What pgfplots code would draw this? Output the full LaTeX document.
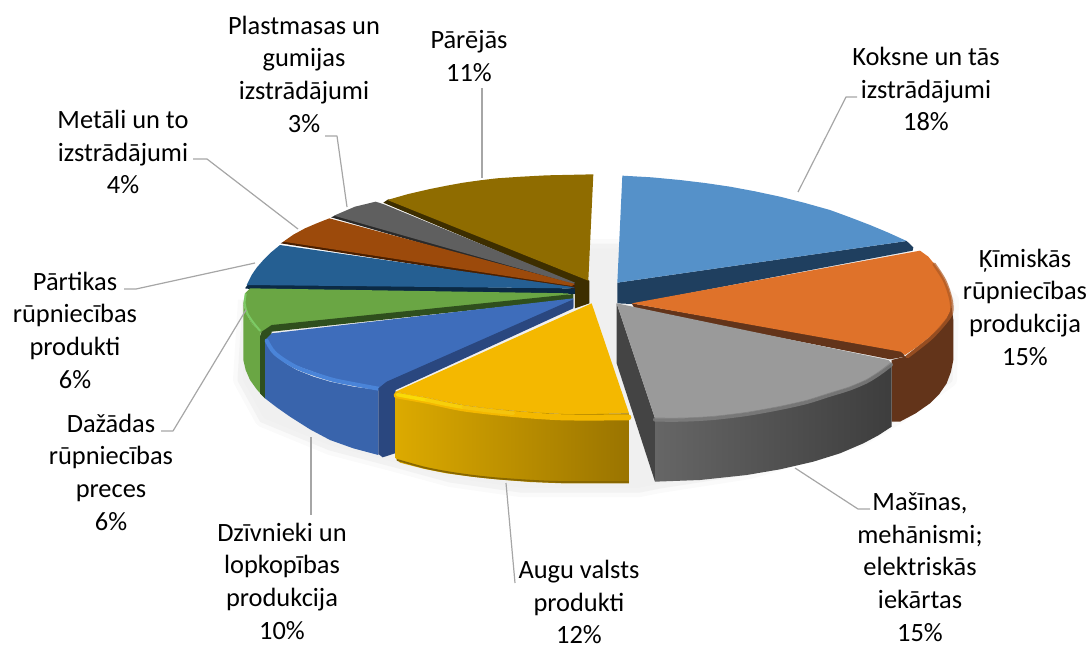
\documentclass[border=0pt]{standalone}
\usepackage{fontspec}
\setmainfont{Carlito}
\usepackage{pgfplots}
\pgfplotsset{compat=1.18}
\definecolor{cBlue}{HTML}{5591C9}\definecolor{dBlue}{HTML}{1F3F5F}
\definecolor{cOr}{HTML}{DF722A}\definecolor{dOr}{HTML}{63341A}
\definecolor{cGr}{HTML}{9A9A9A}\definecolor{dGr}{HTML}{444444}
\definecolor{cYe}{HTML}{F4B800}
\definecolor{cBl}{HTML}{3E6DBB}\definecolor{dBl}{HTML}{2A477F}
\definecolor{cGn}{HTML}{6AA644}\definecolor{dGn}{HTML}{2F4F1D}
\definecolor{cNa}{HTML}{255F92}\definecolor{dNa}{HTML}{0B2A45}
\definecolor{cBr}{HTML}{9C4A0B}\definecolor{dBr}{HTML}{4A1F00}
\definecolor{cDg}{HTML}{5F5F5F}\definecolor{dDg}{HTML}{2A2A2A}
\definecolor{cGo}{HTML}{8F6C00}\definecolor{dGo}{HTML}{3D2E00}
\definecolor{lead}{HTML}{A6A6A6}
\definecolor{fYeL}{HTML}{DCAA00}\definecolor{fYeR}{HTML}{9A7400}
\definecolor{rBl}{HTML}{4A84D8}
\pgfplotsset{
 zr/.style={x filter/.expression={580+x/3},y filter/.expression={160+y/3}},
 zl/.style={x filter/.expression={230+x/3},y filter/.expression={160+y/3}},
 poly/.style={fill=#1,draw=none,mark=none},
 rim/.style={draw=#1,mark=none,line join=round,line cap=round,smooth},
 ld/.style={draw=lead,line width=1.2pt,mark=none,line join=round},
}
\newcommand{\lab}[3]{\node[align=center,inner sep=0pt,font=\fontsize{26.4}{32.7}\selectfont] at (axis cs:#1,#2) {#3};}
\begin{document}
\begin{tikzpicture}[x=1pt,y=1pt]
\begin{axis}[at={(0,0)},anchor=south west,scale only axis,width=1088pt,height=648pt,
 xmin=0,xmax=1088,ymin=0,ymax=648,y dir=reverse,hide axis,clip=false]
% shadow
\addplot[fill=black!3,draw=black!2,line width=14pt,line join=round,mark=none] coordinates {
 (245,300)(240,380)(262,420)(330,448)(395,465)(450,480)(520,490)(640,490)(660,486)(750,472)(860,440)(900,416)(950,380)(952,300)(900,250)(620,246)(590,246)(400,260)};
\addplot[fill=black!6,draw=black!5,line width=5pt,line join=round,mark=none] coordinates {
 (245,300)(240,380)(262,420)(330,448)(395,465)(450,480)(520,490)(640,490)(660,486)(750,472)(860,440)(900,416)(950,380)(952,300)(900,250)(620,246)(590,246)(400,260)};
% gold
\addplot[poly=dGo,zl] coordinates {(460,128)(475,118)(1078,362)(1078,430)(1035,445)(1035,372)};
\addplot[poly=cGo,zl] coordinates {(472,120)(535,102)(600,87)(650,77)(700,68)(750,61)(800,55)(875,50)(950,46)(1090,43)(1075,362)};
% plastics
\addplot[poly=dDg,zl] coordinates {(303,172)(320,165)(1035,368)(1035,382)};
\addplot[poly=cDg,zl] coordinates {(312,167)(375,140)(437,125)(462,133)(1035,368)(1030,372)};
% metals
\addplot[poly=dBr,zl] coordinates {(152,250)(170,240)(1035,375)(1035,388)};
\addplot[poly=cBr,zl] coordinates {(160,245)(190,224)(225,205)(260,190)(298,175)(1035,372)(1025,378)};
% food
\addplot[poly=dNa,zl] coordinates {(45,385)(55,372)(1015,385)(1035,385)(1035,402)(60,387)};
\addplot[poly=cNa,zl] coordinates {(150,255)(122,278)(100,300)(80,323)(65,345)(50,375)(1015,385)(1035,382)};
% misc
\addplot[poly=cGn,zl] coordinates {(40,430)(48,460)(65,490)(92,520)(92,700)(105,715)(80,688)(60,660)(47,630)(40,600)};
\addplot[poly=cGn,zl] coordinates {(45,400)(60,385)(1015,400)(1015,408)(125,497)(105,510)(90,520)(65,490)(48,460)(40,430)};
\addplot[rim={cGn!55!green!60!white},line width=2pt,zl,opacity=.6] coordinates {(47,402)(44,430)(52,460)(70,488)(90,512)};
\addplot[poly=dGn,zl] coordinates {(1030,402)(125,495)(95,515)(90,530)(90,700)(105,715)(125,515)(1030,418)};
% animals
\addplot[poly=cBl,zl] coordinates {(1030,415)(125,520)(105,540)(120,570)(180,610)(290,650)(400,680)(445,688)(470,668)(1030,440)};
\addplot[poly=cBl!92!black,zl] coordinates {(105,545)(120,570)(140,590)(170,612)(200,630)(250,650)(300,665)(370,680)(445,690)(445,885)(370,865)(300,840)(240,808)(180,770)(140,742)(105,715)};
\addplot[rim={rBl},line width=4pt,zl] coordinates {(110,542)(135,580)(200,622)(300,657)(370,672)(445,686)};
\addplot[poly=dBl,zl] coordinates {(1030,418)(1030,445)(497,690)(495,880)(458,892)(445,882)(445,685)(470,665)};
% plants
\addplot[poly=cYe,zl] coordinates {(1085,430)(1197,760)(1100,762)(1000,762)(925,758)(850,752)(775,745)(700,735)(645,724)(590,712)(540,704)(497,695)};
\addplot[shade,left color=fYeL,right color=fYeR,draw=none,mark=none,zl] coordinates {
 (497,695)(497,895)(510,908)(580,926)(650,940)(725,950)(800,958)(900,966)(1000,970)(1197,970)(1197,760)(1100,762)(1000,762)(925,758)(850,752)(775,745)(700,735)(645,724)(590,712)(540,704)};
\addplot[rim={cYe},line width=6pt,zl] coordinates {(500,706)(590,722)(700,745)(850,762)(1000,772)(1195,772)};
\addplot[rim={yellow!60!cYe},line width=3.5pt,zl] coordinates {(502,704)(545,712)(590,720)};
\addplot[rim={yellow!40!cYe},line width=3.5pt,zl] coordinates {(590,720)(645,732)(700,742)};
\addplot[rim={yellow!20!cYe},line width=3.5pt,zl] coordinates {(700,742)(775,752)(850,760)};
\addplot[rim={cGo!95!black},line width=1.8pt,zl] coordinates {(502,900)(580,922)(650,936)(725,947)(800,955)(900,962)(1000,966)(1195,966)};
% wood
\addplot[poly=dBlue,zr] coordinates {(112,368)(980,243)(1000,262)(998,272)(155,432)(112,430)};
\addplot[poly=cBlue,zr] coordinates {(127,47)(215,52)(300,60)(375,69)(450,80)(525,94)(600,110)(675,129)(750,150)(810,172)(870,195)(925,218)(980,243)(112,368)};
% chemicals
\addplot[poly=dOr,zr] coordinates {(1112,420)(1120,480)(1120,600)(1113,635)(1100,670)(1078,702)(1050,730)(1007,760)(960,785)(935,785)(935,600)(975,590)(1050,530)(1100,470)};
\addplot[poly=dOr,zr] coordinates {(155,430)(965,572)(975,590)(930,598)(165,447)};
\addplot[poly=cOr,zr] coordinates {(155,430)(1020,272)(1045,290)(1063,312)(1080,335)(1094,360)(1105,385)(1112,408)(1115,430)(1110,455)(1100,475)(1078,503)(1050,530)(1015,558)(975,585)(962,575)};
\addplot[rim={cOr!60!dOr},line width=3.5pt,zr,opacity=.7] coordinates {(1062,312)(1094,362)(1112,415)(1115,455)(1100,482)(1052,535)(982,590)};
% machinery
\addplot[poly=dGr,zr] coordinates {(110,430)(225,775)(225,965)(110,610)};
\addplot[poly=cGr,zr] coordinates {(110,430)(925,600)(935,610)(900,635)(860,660)(808,682)(750,700)(680,722)(600,740)(500,758)(400,770)(310,775)(225,775)};
\addplot[shade,left color=black!60,right color=black!76,draw=none,mark=none,zr] coordinates {
 (225,775)(310,775)(400,770)(500,758)(600,740)(680,722)(750,700)(808,682)(860,660)(900,635)(935,610)(935,800)(895,826)(850,850)(780,880)(700,905)(600,928)(500,945)(360,960)(225,965)};
\addplot[rim={black!50},line width=4pt,zr,opacity=.8] coordinates {(225,779)(310,779)(400,774)(500,762)(600,744)(680,726)(750,704)(808,686)(860,664)(900,639)(933,614)};
% leaders
\addplot[ld] coordinates {(482,88)(482,178)};
\addplot[ld] coordinates {(325,136)(337,136)(347,207)};
\addplot[ld] coordinates {(193,159)(207,159)(298,229)};
\addplot[ld] coordinates {(124,289)(136,289)(255,263)};
\addplot[ld] coordinates {(161,431)(173,431)(246,310)};
\addplot[ld] coordinates {(311,437)(311,515)};
\addplot[ld] coordinates {(506,483)(515,583)};
\addplot[ld] coordinates {(795,468)(858,509)(870,509)};
\addplot[ld] coordinates {(798,192)(846,97)(857,97)};
% labels
\lab{926}{89}{Koksne un tās\\izstrādājumi\\18\%}
\lab{1025}{307}{Ķīmiskās\\rūpniecības\\produkcija\\15\%}
\lab{920}{567}{Mašīnas,\\mehānismi;\\elektriskās\\iekārtas\\15\%}
\lab{579}{602}{Augu valsts\\produkti\\12\%}
\lab{282}{581}{Dzīvnieki un\\lopkopības\\produkcija\\10\%}
\lab{111}{472}{Dažādas\\rūpniecības\\preces\\6\%}
\lab{75}{330}{Pārtikas\\rūpniecības\\produkti\\6\%}
\lab{123}{152}{Metāli un to\\izstrādājumi\\4\%}
\lab{304}{74}{Plastmasas un\\gumijas\\izstrādājumi\\3\%}
\lab{469}{56}{Pārējās\\11\%}
\end{axis}
\path[use as bounding box] (0,0) rectangle (1088,648);
\end{tikzpicture}
\end{document}
